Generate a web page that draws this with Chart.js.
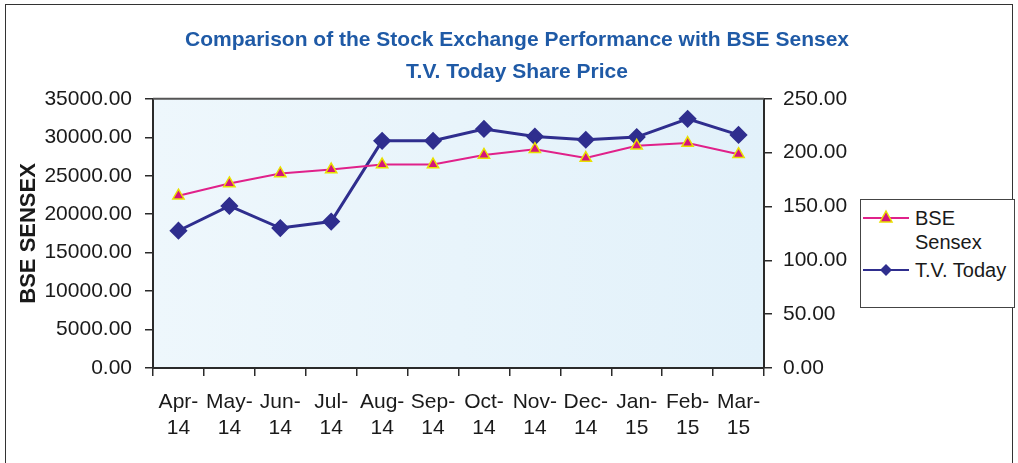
<!DOCTYPE html>
<html>
<head>
<meta charset="utf-8">
<script src="https://cdn.jsdelivr.net/npm/chart.js@4.4.1/dist/chart.umd.min.js"></script>
<style>
  body { margin: 0; background: #fff; }
  #wrap { position: relative; width: 1018px; height: 463px; overflow: hidden; }
  #frame { position: absolute; left: 5px; top: 4px; width: 1006px; height: 470px; border: 1px solid #333; }
  #chartBox { position: absolute; left: 0; top: 0; width: 1018px; height: 463px; }
  #legend { position: absolute; left: 860px; top: 199px; width: 153px; height: 107px; border: 1px solid #444;
            background: #fff; font: 20px "Liberation Sans", Arial, sans-serif; color: #1a1a1a; }
  .item { position: absolute; left: 2px; }
  .item span { position: absolute; left: 52px; line-height: 24px; white-space: nowrap; }
</style>
</head>
<body>
<div id="wrap">
  <div id="frame"></div>
  <div id="chartBox"><canvas id="perfChart" width="1018" height="463"></canvas></div>
  <div id="legend">
    <div class="item" style="top:6px">
      <svg width="46" height="24"><line x1="0" y1="12" x2="46" y2="12" stroke="#e0218a" stroke-width="2"/>
        <polygon points="23,5 29,16 17,16" fill="#d4147a" stroke="#e8e000" stroke-width="1.5"/></svg>
      <span style="top:0">BSE<br>Sensex</span>
    </div>
    <div class="item" style="top:58px">
      <svg width="46" height="24"><line x1="0" y1="12" x2="46" y2="12" stroke="#2f2e8e" stroke-width="2"/>
        <polygon points="23,6 29,12 23,18 17,12" fill="#2f2e8e"/></svg>
      <span style="top:0">T.V. Today</span>
    </div>
  </div>
</div>
<script>
// data
const months = [['Apr-','14'],['May-','14'],['Jun-','14'],['Jul-','14'],['Aug-','14'],['Sep-','14'],
                ['Oct-','14'],['Nov-','14'],['Dec-','14'],['Jan-','15'],['Feb-','15'],['Mar-','15']];
const bseSensex = [22400, 24000, 25300, 25800, 26450, 26450, 27700, 28450, 27300, 28900, 29250, 27800];
const tvToday = [127.5, 150.5, 130, 136, 211, 211, 222, 215, 212, 214.5, 231.5, 216.5];

const tickFont = { family: '"Liberation Sans", Arial, sans-serif', size: 21, lineHeight: 1.2 };
const axisColor = '#2a2a2a';

// light blue plot background + dark top border
const plotFrame = {
  id: 'plotFrame',
  beforeDraw(chart) {
    const { ctx, chartArea: a } = chart;
    ctx.save();
    const g = ctx.createLinearGradient(a.left, 0, a.right, 0);
    g.addColorStop(0, '#eef7fc');
    g.addColorStop(1, '#e2f1fa');
    ctx.fillStyle = g;
    ctx.fillRect(a.left, a.top, a.right - a.left, a.bottom - a.top);
    ctx.restore();
  },
  afterDraw(chart) {
    const { ctx, chartArea: a } = chart;
    ctx.save();
    ctx.strokeStyle = '#555';
    ctx.lineWidth = 2;
    ctx.beginPath();
    ctx.moveTo(a.left, a.top);
    ctx.lineTo(a.right, a.top);
    ctx.stroke();
    ctx.restore();
  }
};

const ctx = document.getElementById('perfChart');
new Chart(ctx, {
  type: 'line',
  data: {
    labels: months,
    datasets: [
      {
        label: 'BSE Sensex',
        data: bseSensex,
        yAxisID: 'y',
        borderColor: '#e0218a',
        borderWidth: 2,
        pointStyle: 'triangle',
        pointRadius: 6.5,
        pointBackgroundColor: '#d4147a',
        pointBorderColor: '#e8e000',
        pointBorderWidth: 1.5,
        tension: 0
      },
      {
        label: 'T.V. Today',
        data: tvToday,
        yAxisID: 'y1',
        borderColor: '#2f2e8e',
        borderWidth: 3,
        pointStyle: 'rectRot',
        pointRadius: 7,
        pointBackgroundColor: '#2f2e8e',
        pointBorderColor: '#2f2e8e',
        tension: 0
      }
    ]
  },
  options: {
    responsive: false,
    animation: false,
    layout: { padding: { left: 16, top: 0, right: 0, bottom: 0 } },
    plugins: {
      legend: { display: false },
      tooltip: { enabled: false },
      title: {
        display: true,
        text: ['Comparison of the Stock Exchange Performance with BSE Sensex', 'T.V. Today Share Price'],
        color: '#1f5aa6',
        font: { family: '"Liberation Sans", Arial, sans-serif', size: 21, weight: 'bold', lineHeight: 1.52 },
        padding: { top: 24, bottom: 11 },
        fullSize: true
      }
    },
    scales: {
      x: {
        offset: true,
        grid: { offset: true, drawOnChartArea: false, color: axisColor, tickLength: 8, lineWidth: 1.5 },
        border: { color: axisColor, width: 2 },
        ticks: { color: '#1a1a1a', font: tickFont, maxRotation: 0, autoSkip: false, padding: 14 },
        afterFit(scale) { scale.height = 95; }
      },
      y: {
        position: 'left',
        min: 0, max: 35000,
        ticks: { stepSize: 5000, color: '#1a1a1a', font: tickFont, padding: 13,
                 callback: v => v.toFixed(2) },
        grid: { drawOnChartArea: false, color: axisColor, tickLength: 8, lineWidth: 1.5 },
        border: { color: axisColor, width: 2 },
        title: { display: true, text: 'BSE SENSEX', color: '#1a1a1a', padding: 0,
                 font: { family: '"Liberation Sans", Arial, sans-serif', size: 22, weight: 'bold' } },
        afterFit(scale) { scale.width = 137; }
      },
      y1: {
        position: 'right',
        min: 0, max: 250,
        ticks: { stepSize: 50, color: '#1a1a1a', font: tickFont, padding: 11,
                 callback: v => v.toFixed(2) },
        grid: { drawOnChartArea: false, color: axisColor, tickLength: 8, lineWidth: 1.5 },
        border: { color: axisColor, width: 2 },
        afterFit(scale) { scale.width = 254; }
      }
    }
  },
  plugins: [plotFrame]
});
</script>
</body>
</html>
